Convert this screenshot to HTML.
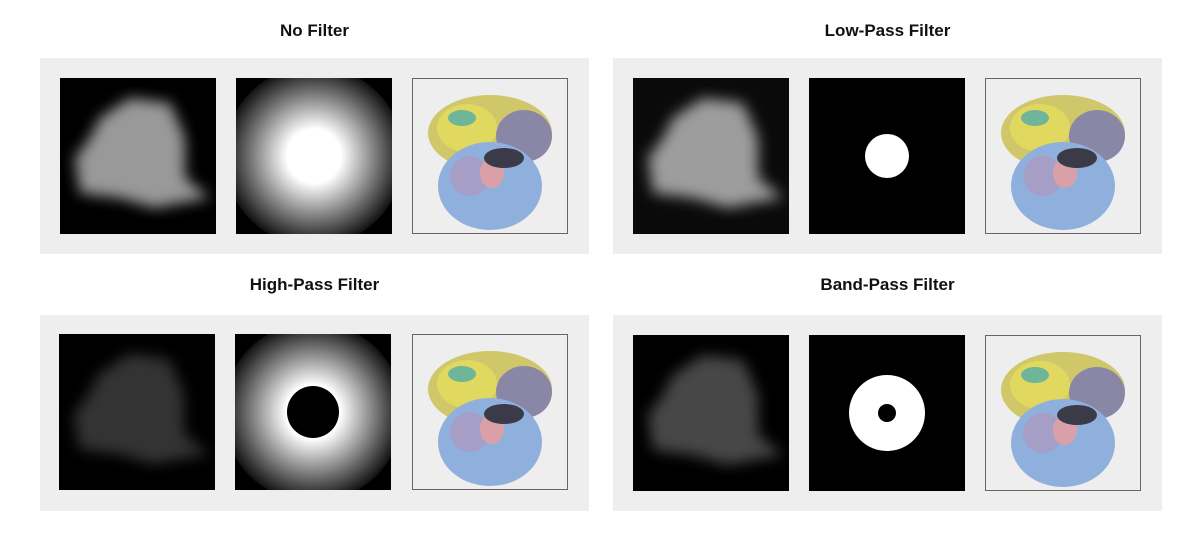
<!DOCTYPE html>
<html><head><meta charset="utf-8"><style>
body{margin:0;width:1200px;height:550px;background:#fff;font-family:"Liberation Sans",sans-serif;position:relative;overflow:hidden}
.t{position:absolute;font-weight:bold;font-size:17px;color:#111;text-align:center;width:549px}
.p{position:absolute;background:#eeeeee;width:549px;height:196px}
svg.tile{position:absolute;width:156px;height:156px}
</style></head><body>
<svg width="0" height="0" style="position:absolute">
<defs>
<radialGradient id="freq" cx="50%" cy="50%" r="50%"><stop offset="0" stop-color="#fff"/><stop offset="0.3" stop-color="#fff"/><stop offset="0.7" stop-color="#777"/><stop offset="1" stop-color="#111"/></radialGradient>
<filter id="blur6"><feGaussianBlur stdDeviation="7"/></filter>
<g id="blob"><path d="M40 40 L70 20 L110 25 L125 60 L125 100 L150 120 L120 125 L95 130 L60 120 L20 115 L15 80 L30 60 Z" fill="#fff"/></g>
<g id="struct">
<ellipse cx="78" cy="55" rx="62" ry="38" fill="#cfc76a"/>
<ellipse cx="55" cy="50" rx="30" ry="24" fill="#e1d85f"/>
<ellipse cx="112" cy="58" rx="28" ry="26" fill="#8a86a6"/>
<ellipse cx="78" cy="108" rx="52" ry="44" fill="#8fb0dc"/>
<ellipse cx="58" cy="98" rx="20" ry="20" fill="#a59fc7"/>
<ellipse cx="80" cy="95" rx="12" ry="15" fill="#d9a0a8"/>
<ellipse cx="92" cy="80" rx="20" ry="10" fill="#3a3a48"/>
<ellipse cx="50" cy="40" rx="14" ry="8" fill="#6fb59a"/>
</g>
</defs></svg>

<div class="t" style="left:40px;top:21px">No Filter</div>
<div class="t" style="left:613px;top:21px">Low-Pass Filter</div>
<div class="t" style="left:40px;top:275px">High-Pass Filter</div>
<div class="t" style="left:613px;top:275px">Band-Pass Filter</div>

<div class="p" style="left:40px;top:58px"></div>
<div class="p" style="left:613px;top:58px"></div>
<div class="p" style="left:40px;top:315px"></div>
<div class="p" style="left:613px;top:315px"></div>

<svg class="tile" style="left:60px;top:78px" viewBox="0 0 156 156"><rect width="156" height="156" fill="#000"/><g filter="url(#blur6)" opacity="0.6"><use href="#blob"/></g></svg>
<svg class="tile" style="left:236px;top:78px" viewBox="0 0 156 156"><rect width="156" height="156" fill="#000"/><circle cx="78" cy="78" r="90" fill="url(#freq)"/></svg>
<svg class="tile" style="left:412px;top:78px" viewBox="0 0 156 156"><rect x="0.5" y="0.5" width="155" height="155" fill="#eee" stroke="#666"/><use href="#struct"/></svg>

<svg class="tile" style="left:633px;top:78px" viewBox="0 0 156 156"><rect width="156" height="156" fill="#0a0a0a"/><g filter="url(#blur6)" opacity="0.6"><use href="#blob"/></g></svg>
<svg class="tile" style="left:809px;top:78px" viewBox="0 0 156 156"><rect width="156" height="156" fill="#000"/><circle cx="78" cy="78" r="22" fill="#fff"/></svg>
<svg class="tile" style="left:985px;top:78px" viewBox="0 0 156 156"><rect x="0.5" y="0.5" width="155" height="155" fill="#eee" stroke="#666"/><use href="#struct"/></svg>

<svg class="tile" style="left:59px;top:334px" viewBox="0 0 156 156"><rect width="156" height="156" fill="#000"/><g filter="url(#blur6)" opacity="0.2"><use href="#blob"/></g></svg>
<svg class="tile" style="left:235px;top:334px" viewBox="0 0 156 156"><rect width="156" height="156" fill="#000"/><circle cx="78" cy="78" r="90" fill="url(#freq)"/><circle cx="78" cy="78" r="26" fill="#000"/></svg>
<svg class="tile" style="left:412px;top:334px" viewBox="0 0 156 156"><rect x="0.5" y="0.5" width="155" height="155" fill="#eee" stroke="#666"/><use href="#struct"/></svg>

<svg class="tile" style="left:633px;top:335px" viewBox="0 0 156 156"><rect width="156" height="156" fill="#000"/><g filter="url(#blur6)" opacity="0.28"><use href="#blob"/></g></svg>
<svg class="tile" style="left:809px;top:335px" viewBox="0 0 156 156"><rect width="156" height="156" fill="#000"/><circle cx="78" cy="78" r="38" fill="#fff"/><circle cx="78" cy="78" r="9" fill="#000"/></svg>
<svg class="tile" style="left:985px;top:335px" viewBox="0 0 156 156"><rect x="0.5" y="0.5" width="155" height="155" fill="#eee" stroke="#666"/><use href="#struct"/></svg>
</body></html>
